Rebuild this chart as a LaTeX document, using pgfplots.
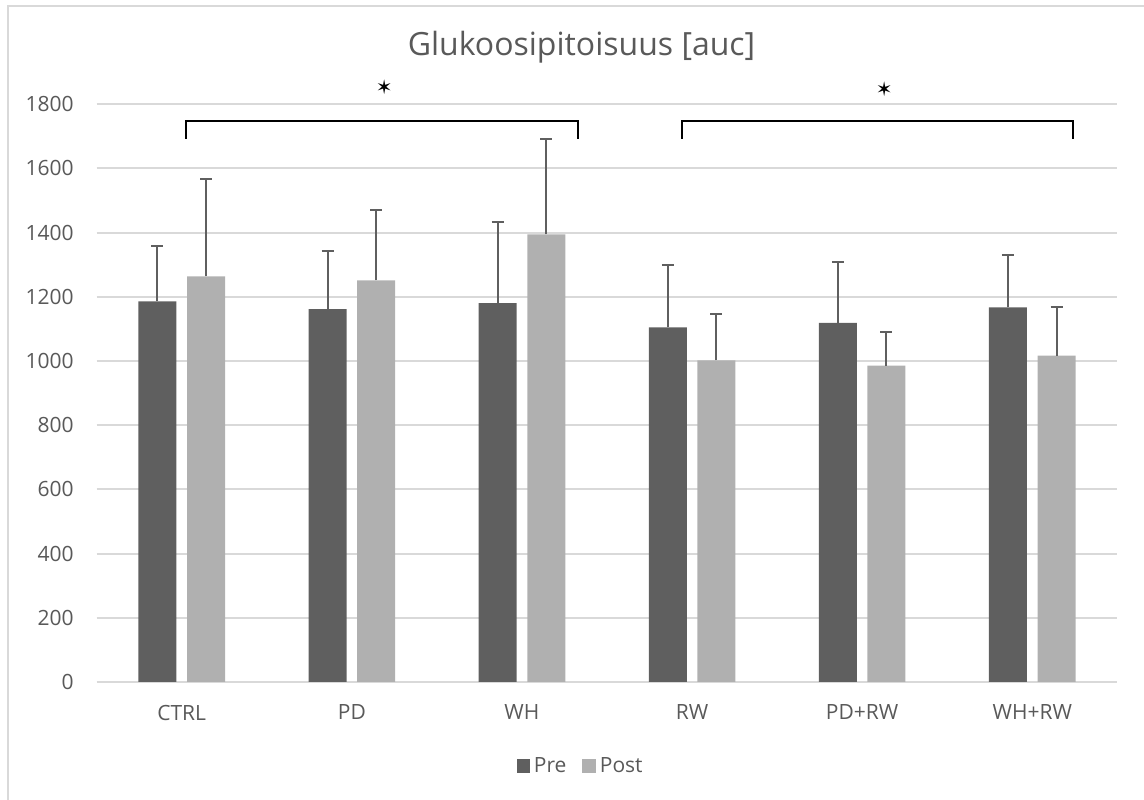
\documentclass[border=0pt]{standalone}
\usepackage{pgfplots}
\pgfplotsset{compat=1.18}
\usepackage{pgfplotstable}
\usepackage{fontspec}
\setmainfont{Open Sans}
\newfontfamily\symfont{DejaVu Sans}
\definecolor{pre}{HTML}{5F5F5F}
\definecolor{post}{HTML}{B0B0B0}
\definecolor{txt}{HTML}{595959}
\definecolor{gridc}{HTML}{D9D9D9}

\pgfplotstableread{
x pre preerr post posterr
0 1186 173 1264 304
1 1162 181 1251 219
2 1180 254 1395 296
3 1105 194 1002 143
4 1119 188 986 103
5 1167 164 1017 151
}\data

\begin{document}
\begin{tikzpicture}
\useasboundingbox (0bp,0bp) rectangle (572bp,400bp);
\draw[gridc, line width=1bp] (4.15bp,0bp) -- (4.15bp,397bp) -- (572bp,397bp);
\begin{axis}[
 at={(48.35bp,59.05bp)}, anchor=south west,
 scale only axis, width=510.3bp, height=288.8bp,
 xmin=-0.5, xmax=5.5, ymin=0, ymax=1800,
 ytick={0,200,...,1800},
 xtick={0,...,5}, xticklabels={CTRL,PD,WH,RW,PD+RW,WH+RW},
 axis line style={draw=none},
 major tick length=0pt,
 ymajorgrids, grid style={gridc, line width=1bp},
 tick label style={font=\fontsize{10.5bp}{12bp}\selectfont, text=txt},
 /pgf/number format/assume math mode=true,
 /pgf/number format/1000 sep={},
 xticklabel style={yshift=-8bp},
 yticklabel style={xshift=-8bp},
 clip=false,
 ybar, bar width=19bp,
 error bars/y dir=plus, error bars/y explicit,
 error bars/error bar style={draw=pre, line width=1bp},
 error bars/error mark options={rotate=90, mark size=3bp, draw=pre, line width=1bp},
 legend image code/.code={\fill[#1] (0bp,-3.35bp) rectangle (6.7bp,3.35bp);},
 legend style={at={(0.4751,-0.1456)}, anchor=center, draw=none, fill=none,
   legend columns=2, font=\fontsize{10.5bp}{12bp}\selectfont, text=txt,
   /tikz/every even column/.append style={column sep=6bp}},
]
\addplot[fill=pre, draw=none, bar shift=-12.15bp] table[x=x, y=pre, y error plus=preerr]{\data};
\addplot[fill=post, draw=none, bar shift=12.15bp] table[x=x, y=post, y error plus=posterr]{\data};
\legend{Pre,Post}
\draw[black, line width=1.2bp] (axis cs:0.025,1692) -- (axis cs:0.025,1748) -- (axis cs:2.33,1748) -- (axis cs:2.33,1692);
\draw[black, line width=1.2bp] (axis cs:2.94,1692) -- (axis cs:2.94,1748) -- (axis cs:5.24,1748) -- (axis cs:5.24,1692);
\node[font=\symfont\fontsize{10bp}{10bp}\selectfont, text=black] at (axis cs:1.19,1853) {✶};
\node[font=\symfont\fontsize{10bp}{10bp}\selectfont, text=black] at (axis cs:4.13,1847) {✶};
\node[anchor=base, font=\fontsize{16bp}{19bp}\selectfont, text=txt] at (rel axis cs:0.475,1.0853) {Glukoosipitoisuus [auc]};
\end{axis}
\end{tikzpicture}
\end{document}
